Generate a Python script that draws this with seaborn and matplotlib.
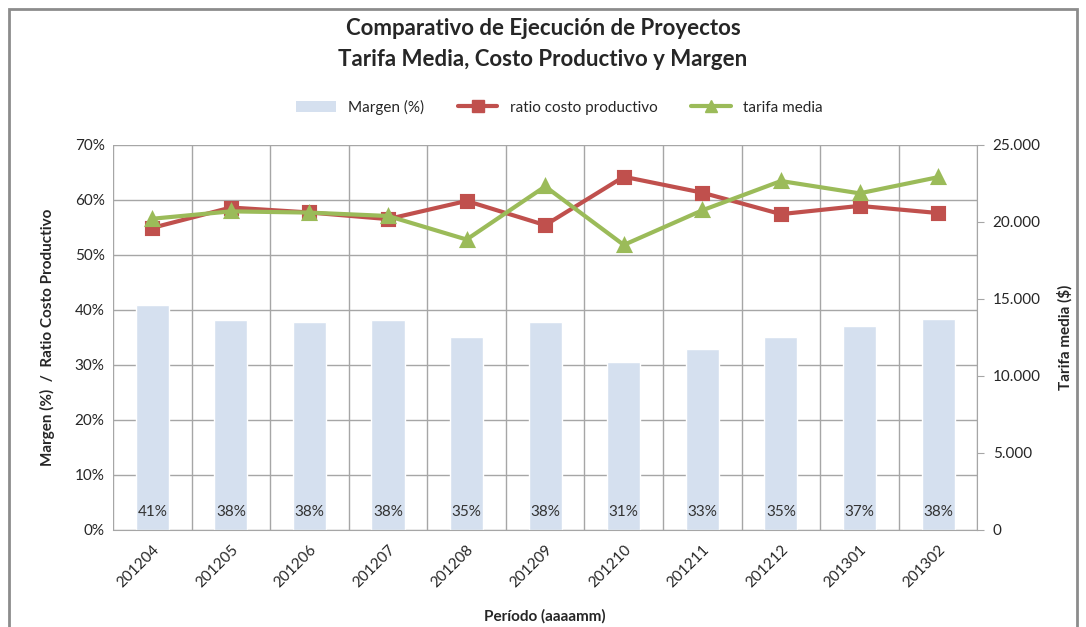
import matplotlib
matplotlib.use("Agg")
import matplotlib.pyplot as plt
import matplotlib.ticker as mticker
from matplotlib.patches import Patch, Rectangle
from matplotlib.lines import Line2D
import seaborn as sns
import pandas as pd
import numpy as np

periodos = ["201204", "201205", "201206", "201207", "201208", "201209",
            "201210", "201211", "201212", "201301", "201302"]
margen = [40.8, 38.1, 37.8, 38.1, 35.1, 37.8, 30.6, 32.8, 35.1, 37.1, 38.4]
ratio_costo = [54.9, 58.6, 57.7, 56.5, 59.8, 55.4, 64.2, 61.3, 57.4, 58.9, 57.6]
tarifa_media = [20200, 20680, 20600, 20380, 18850, 22300, 18500, 20750, 22650, 21850, 22900]

df = pd.DataFrame({"periodo": periodos, "margen": margen,
                   "ratio": ratio_costo, "tarifa": tarifa_media})

sns.set_style("white")
plt.rcParams["font.family"] = ["Lato", "DejaVu Sans"]

c_bar = "#d5e0ef"
c_red = "#c0504d"
c_green = "#9bbb59"
c_grid = "#a6a6a6"

fig = plt.figure(figsize=(10.86, 6.27), dpi=100)
ax = fig.add_axes([0.104, 0.155, 0.796, 0.614])
ax2 = ax.twinx()

sns.barplot(data=df, x="periodo", y="margen", color=c_bar, width=0.42,
            saturation=1, ax=ax, zorder=2)
sns.pointplot(data=df, x="periodo", y="ratio", color=c_red, markers="s",
              markersize=8, linewidth=3, ax=ax, zorder=4)
sns.pointplot(data=df, x="periodo", y="tarifa", color=c_green, markers="^",
              markersize=9, linewidth=3, ax=ax2, zorder=4)

for i, v in enumerate(margen):
    ax.text(i, 3.2, f"{v:.0f}%", ha="center", va="center", fontsize=11,
            color="#333333", zorder=5)

ax.set_ylim(0, 70)
ax.set_yticks(np.arange(0, 71, 10))
ax.yaxis.set_major_formatter(mticker.FuncFormatter(lambda v, p: f"{v:.0f}%"))
ax2.set_ylim(0, 25000)
ax2.set_yticks(np.arange(0, 25001, 5000))
ax2.yaxis.set_major_formatter(
    mticker.FuncFormatter(lambda v, p: f"{v:,.0f}".replace(",", ".")))
ax.set_xlim(-0.5, len(periodos) - 0.5)

ax.set_xticks(range(len(periodos)))
ax.set_xticklabels(periodos, rotation=45, ha="right", rotation_mode="anchor",
                   fontsize=11)
ax.set_xticks(np.arange(-0.5, len(periodos), 1), minor=True)
ax.tick_params(axis="x", which="major", length=0, pad=9)
ax.tick_params(axis="x", which="minor", length=5, color=c_grid, direction="out")
ax.tick_params(axis="y", labelsize=11, length=0, pad=6)
ax2.tick_params(axis="y", labelsize=11, length=5, color=c_grid, direction="out", pad=6)

ax.set_axisbelow(True)
ax.yaxis.grid(True, color=c_grid, linewidth=1)
ax.xaxis.grid(True, which="minor", color=c_grid, linewidth=1)
ax.xaxis.grid(False, which="major")
ax2.grid(False)

for a in (ax, ax2):
    for s in a.spines.values():
        s.set_visible(False)
ax.spines["bottom"].set_visible(True)
ax.spines["bottom"].set_color(c_grid)
ax2.spines["right"].set_visible(True)
ax2.spines["right"].set_color(c_grid)

ax.set_xlabel("Período (aaaamm)", fontsize=11, fontweight="bold", labelpad=14)
ax.set_ylabel("Margen (%)  /  Ratio Costo Productivo", fontsize=11,
              fontweight="bold", labelpad=14)
ax2.set_ylabel("Tarifa media ($)", fontsize=11, fontweight="bold", labelpad=12)

fig.suptitle("Comparativo de Ejecución de Proyectos\nTarifa Media, Costo Productivo y Margen",
             y=0.972, fontsize=16, fontweight="bold", linespacing=1.6)

handles = [Patch(facecolor=c_bar, edgecolor="none"),
           Line2D([], [], color=c_red, marker="s", markersize=8, linewidth=3),
           Line2D([], [], color=c_green, marker="^", markersize=9, linewidth=3)]
fig.legend(handles, ["Margen (%)", "ratio costo productivo", "tarifa media"],
           loc="center", bbox_to_anchor=(0.515, 0.829), ncol=3, frameon=False,
           fontsize=11, handlelength=2.6, columnspacing=2.2)

fig.add_artist(Rectangle((0.008, -0.01), 0.984, 0.995, transform=fig.transFigure,
                         fill=False, edgecolor="#8c8c8c", linewidth=2))

fig.savefig("out.png", dpi=100)
